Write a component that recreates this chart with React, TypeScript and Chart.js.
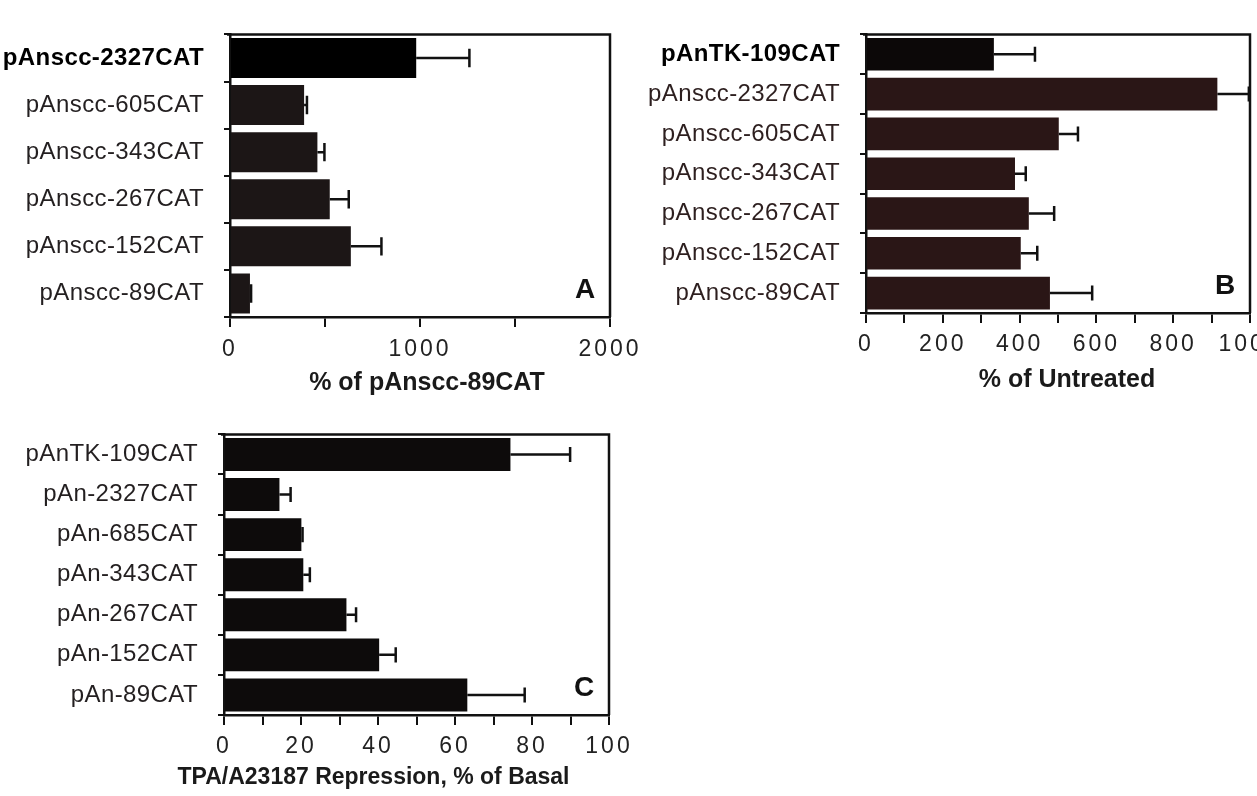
import React, { useEffect, useRef } from 'react';
import { Chart, registerables } from 'chart.js';

Chart.register(...registerables);

const FONT = '"Liberation Sans", Arial, Helvetica, sans-serif';

// ---------- Panel A ----------
const labelsA = ['pAnscc-2327CAT', 'pAnscc-605CAT', 'pAnscc-343CAT', 'pAnscc-267CAT', 'pAnscc-152CAT', 'pAnscc-89CAT'];
const valuesA = [980, 390, 460, 525, 636, 105];
const errorsA = [280, 15, 37, 100, 161, 6];
const ticksA = { max: 2000, step: 500, labelEvery: 1000 };
const titleA = '% of pAnscc-89CAT';

// ---------- Panel B ----------
const labelsB = ['pAnTK-109CAT', 'pAnscc-2327CAT', 'pAnscc-605CAT', 'pAnscc-343CAT', 'pAnscc-267CAT', 'pAnscc-152CAT', 'pAnscc-89CAT'];
const valuesB = [333, 915, 502, 388, 424, 403, 479];
const errorsB = [107, 82, 50, 28, 66, 43, 110];
const ticksB = { max: 1000, step: 100, labelEvery: 200 };
const titleB = '% of Untreated';

// ---------- Panel C ----------
const labelsC = ['pAnTK-109CAT', 'pAn-2327CAT', 'pAn-685CAT', 'pAn-343CAT', 'pAn-267CAT', 'pAn-152CAT', 'pAn-89CAT'];
const valuesC = [74.4, 14.4, 20.1, 20.6, 31.8, 40.3, 63.2];
const errorsC = [15.5, 2.9, 0.3, 1.7, 2.5, 4.3, 14.9];
const ticksC = { max: 100, step: 10, labelEvery: 20 };
const titleC = 'TPA/A23187 Repression, % of Basal';

function patchScale(scale: any, spacing: string) {
  if (!scale || scale.__patched) return;
  scale.__patched = true;
  const orig = scale.drawLabels.bind(scale);
  scale.drawLabels = (area: any) => {
    const ctx = scale.ctx;
    ctx.save();
    (ctx as any).letterSpacing = spacing;
    orig(area);
    ctx.restore();
  };
}

type Spec = {
  labels: string[];
  values: number[];
  errors: number[];
  ticks: { max: number; step: number; labelEvery: number };
  title: string;
  titleSize: number;
  titleDx: number;
  titleDy: number;
  letter: string;
  barColors: string[];
  labelColor: string;
  boldFirst: boolean;
  yWidth: number;
  xHeight: number;
  padTop: number;
  padRight: number;
  tickPad: number;
  barPct: number;
};

function makeDecor(s: Spec) {
  return {
    id: 'decor' + s.letter,
    beforeDraw(chart: any) {
      patchScale(chart.scales.x, '3px');
      patchScale(chart.scales.y, '0.4px');
    },
    afterDatasetsDraw(chart: any) {
      const { ctx, chartArea: a } = chart;
      const xs = chart.scales.x;
      const meta = chart.getDatasetMeta(0);
      const data = chart.data.datasets[0].data as number[];
      ctx.save();
      ctx.strokeStyle = '#111';
      ctx.lineWidth = 2.5;
      meta.data.forEach((bar: any, i: number) => {
        const x1 = bar.x;
        const x2 = xs.getPixelForValue(data[i] + s.errors[i]);
        const cap = bar.height * 0.23;
        ctx.beginPath();
        ctx.moveTo(x1, bar.y);
        ctx.lineTo(x2, bar.y);
        ctx.moveTo(x2, bar.y - cap);
        ctx.lineTo(x2, bar.y + cap);
        ctx.stroke();
      });
      ctx.strokeStyle = '#111';
      ctx.lineWidth = 2.5;
      ctx.beginPath();
      ctx.moveTo(a.left - 3, a.top);
      ctx.lineTo(a.right, a.top);
      ctx.lineTo(a.right, a.bottom);
      ctx.stroke();
      ctx.fillStyle = '#111';
      ctx.font = `bold 28px ${FONT}`;
      ctx.textAlign = 'center';
      ctx.textBaseline = 'middle';
      ctx.fillText(s.letter, a.right - 25, a.bottom - 27);
      // axis title
      ctx.fillStyle = '#1a1a1a';
      ctx.font = `bold ${s.titleSize}px ${FONT}`;
      ctx.fillText(s.title, (a.left + a.right) / 2 + s.titleDx, a.bottom + s.titleDy);
      ctx.restore();
    },
  };
}

function buildConfig(s: Spec): any {
  return {
    type: 'bar',
    data: {
      labels: s.labels,
      datasets: [
        {
          data: s.values,
          backgroundColor: s.barColors,
          borderWidth: 0,
          barPercentage: s.barPct,
          categoryPercentage: 1,
        },
      ],
    },
    options: {
      indexAxis: 'y',
      responsive: false,
      animation: false,
      events: [],
      layout: { padding: { top: s.padTop, right: s.padRight, left: 0, bottom: 0 } },
      plugins: { legend: { display: false }, tooltip: { enabled: false } },
      scales: {
        y: {
          type: 'category',
          afterFit: (sc: any) => {
            sc.width = s.yWidth;
          },
          grid: { drawOnChartArea: false, tickLength: 6, lineWidth: 2, color: '#111', offset: true },
          border: { display: true, width: 2.5, color: '#111' },
          ticks: {
            padding: 20,
            autoSkip: false,
            color: (c: any) => (s.boldFirst && c.index === 0 ? '#000' : s.labelColor),
            font: (c: any) => ({
              family: FONT,
              size: 24,
              weight: s.boldFirst && c.index === 0 ? 'bold' : 'normal',
            }),
          },
        },
        x: {
          type: 'linear',
          min: 0,
          max: s.ticks.max,
          afterFit: (sc: any) => {
            sc.height = s.xHeight;
          },
          grid: { drawOnChartArea: false, tickLength: 10, lineWidth: 2, color: '#111' },
          border: { display: true, width: 2.5, color: '#111' },
          ticks: {
            stepSize: s.ticks.step,
            autoSkip: false,
            maxRotation: 0,
            padding: s.tickPad,
            color: '#222',
            font: { family: FONT, size: 23 },
            callback: (v: any) => (Math.round(v) % s.ticks.labelEvery === 0 ? String(Math.round(v)) : ''),
          },
          title: { display: false },
        },
      },
    },
    plugins: [makeDecor(s)],
  };
}

function Panel({ left, top, width, height, spec }: { left: number; top: number; width: number; height: number; spec: Spec }) {
  const ref = useRef<HTMLCanvasElement>(null);
  useEffect(() => {
    const chart = new Chart(ref.current as HTMLCanvasElement, buildConfig(spec));
    return () => chart.destroy();
  }, []);
  return (
    <canvas
      ref={ref}
      width={width}
      height={height}
      style={{ position: 'absolute', left, top, width, height, display: 'block' }}
    />
  );
}

const specA: Spec = {
  labels: labelsA,
  values: valuesA,
  errors: errorsA,
  ticks: ticksA,
  title: titleA,
  titleSize: 25,
  titleDx: 7,
  titleDy: 66,
  letter: 'A',
  barColors: labelsA.map((_, i) => (i === 0 ? '#000' : '#1c1616')),
  labelColor: '#231f20',
  boldFirst: true,
  yWidth: 230,
  xHeight: 83,
  padTop: 13,
  padRight: 50,
  tickPad: 9,
  barPct: 0.85,
};

const specB: Spec = {
  labels: labelsB,
  values: valuesB,
  errors: errorsB,
  ticks: ticksB,
  title: titleB,
  titleSize: 25,
  titleDx: 9,
  titleDy: 67,
  letter: 'B',
  barColors: labelsB.map((_, i) => (i === 0 ? '#0c0808' : '#2a1616')),
  labelColor: '#2d1f1f',
  boldFirst: true,
  yWidth: 236,
  xHeight: 87,
  padTop: 13,
  padRight: 60,
  tickPad: 8,
  barPct: 0.82,
};

const specC: Spec = {
  labels: labelsC,
  values: valuesC,
  errors: errorsC,
  ticks: ticksC,
  title: titleC,
  titleSize: 23,
  titleDx: -43,
  titleDy: 63,
  letter: 'C',
  barColors: labelsC.map(() => '#0d0b0b'),
  labelColor: '#231f20',
  boldFirst: false,
  yWidth: 224,
  xHeight: 81,
  padTop: 16,
  padRight: 51,
  tickPad: 8,
  barPct: 0.82,
};

export default function App() {
  return (
    <div
      style={{
        position: 'absolute',
        left: 0,
        top: 0,
        width: 1257,
        height: 796,
        overflow: 'hidden',
        background: '#fff',
      }}
    >
      <Panel left={0} top={0} width={660} height={400} spec={specA} />
      <Panel left={630} top={0} width={680} height={400} spec={specB} />
      <Panel left={0} top={400} width={660} height={396} spec={specC} />
    </div>
  );
}
